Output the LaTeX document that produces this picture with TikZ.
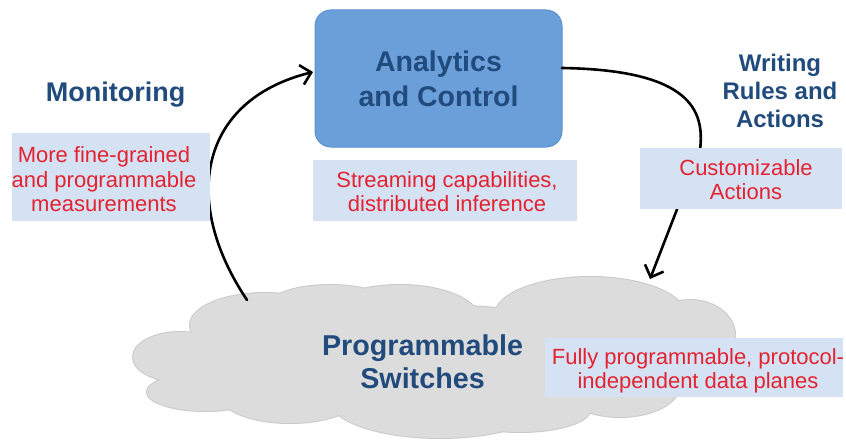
\documentclass[tikz,border=0pt]{standalone}
\usepackage{fontspec}
\setmainfont{Liberation Sans}
\usetikzlibrary{arrows.meta}

\definecolor{navy}{HTML}{224B7D}
\definecolor{acfill}{HTML}{6A9FDA}
\definecolor{acedge}{HTML}{5B90CD}
\definecolor{note}{HTML}{D5E2F3}
\definecolor{notered}{HTML}{E42230}
\definecolor{cloudfill}{HTML}{DCDCDC}
\definecolor{cloudedge}{HTML}{CACACA}

\tikzset{
  heading/.style={text=navy, align=center, inner sep=0pt},
  acbox/.style={fill=acfill, draw=acedge, line width=1pt, rounded corners=16pt,
                text=navy, align=center, inner sep=0pt,
                font=\bfseries\fontsize{28.5}{35}\selectfont},
  notebox/.style={fill=note, draw=none, inner sep=0pt},
  notetext/.style={text=notered, align=center, inner sep=0pt,
                   font=\fontsize{22}{24.5}\selectfont},
  flow/.style={line width=2.6pt, line cap=round,
               -{Straight Barb[length=10pt,width=20pt]}},
}

\begin{document}
\begin{tikzpicture}[x=1pt,y=-1pt]
\path[use as bounding box, fill=white] (0,0) rectangle (846,444);

% cloud: union of lobes, outlined by a slightly darker rim
\def\lobelist{180/357/47/25, 205/392/58/19, 265/325/75/32, 400/320/80/35,
  590/315/95/38, 690/335/45/35, 620/385/60/32, 440/400/110/38,
  290/395/70/28, 430/360/200/55, 520/410/70/22, 240/365/65/34,
  330/305/60/20, 640/360/80/40}
\foreach \cx/\cy/\rx/\ry in \lobelist
  \draw[cloudedge, line width=2pt] (\cx,\cy) ellipse [x radius=\rx pt, y radius=\ry pt];
\foreach \cx/\cy/\rx/\ry in \lobelist
  \fill[cloudfill] (\cx,\cy) ellipse [x radius=\rx pt, y radius=\ry pt];

\node[heading, font=\bfseries\fontsize{28.7}{33}\selectfont] (sw) at (422.5,361.3)
  {Programmable\\Switches};

% control box
\node[acbox, minimum width=247pt, minimum height=137pt] (ac) at (438.5,78.5)
  {Analytics\\and Control};

% connector end points
\coordinate (sw top) at (247,300);
\coordinate (ac in) at (313,72);
\coordinate (ac out) at (562,68);
\coordinate (sw in) at (650,279);

\draw[flow] (sw top) .. controls (180,200) and (200,100) .. (ac in);
\draw[flow] (ac out) .. controls (690,70) and (705,110) .. (700,150) -- (sw in);

% side headings
\node[heading, anchor=base, font=\bfseries\fontsize{27}{32}\selectfont] (mon) at (115.5,102)
  {Monitoring};
\node[heading, font=\bfseries\fontsize{24}{28}\selectfont] (wr) at (780,91.4)
  {Writing\\Rules and\\Actions};

% note boxes
\node[notebox, minimum width=198pt, minimum height=88pt] (mbox) at (111,177) {};
\node[notetext] (mtext) at (104,179.5)
  {More fine-grained\\and programmable\\measurements};

\node[notebox, minimum width=264pt, minimum height=61pt] (sbox) at (445,190.5) {};
\node[notetext] (stext) at (447,191.5)
  {Streaming capabilities,\\distributed inference};

\node[notebox, minimum width=202pt, minimum height=61pt] (cbox) at (741,178.5) {};
\node[notetext] (ctext) at (746,179.5)
  {Customizable\\Actions};

\node[notebox, minimum width=298pt, minimum height=59pt] (fbox) at (694,367.5) {};
\node[notetext] (ftext) at (698,370.6)
  {Fully programmable, protocol-\\independent data planes};
\end{tikzpicture}
\end{document}
